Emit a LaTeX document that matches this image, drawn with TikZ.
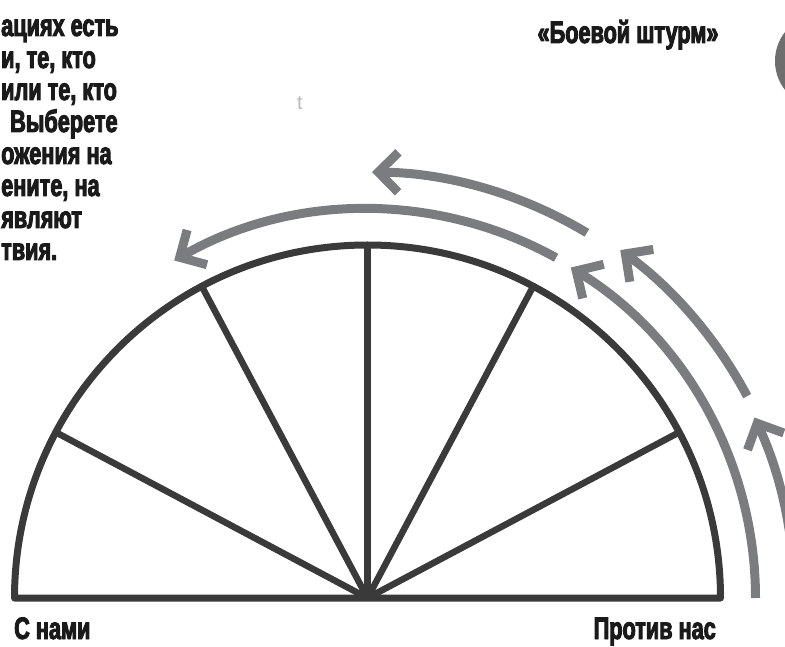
\documentclass[tikz,border=0pt]{standalone}
\usepackage{fontspec}
\setmainfont{Liberation Sans}
\newfontfamily\heavyfont{Liberation Sans Bold}[FakeStretch=0.7, FakeBold=3]
\usetikzlibrary{arrows.meta,calc}

\definecolor{rimgray}{RGB}{58,58,58}
\definecolor{flowgray}{RGB}{123,124,128}
\definecolor{dotgray}{RGB}{110,110,110}
\definecolor{inkblack}{RGB}{26,26,26}

\begin{document}
\begin{tikzpicture}[x=1pt, y=1pt,
    rim/.style={draw=rimgray, line width=7pt, line join=round},
    spoke/.style={draw=rimgray, line width=6.5pt},
    flow/.style={draw=flowgray, line width=9pt,
                 -{Straight Barb[length=20pt,width=40pt,sharp]}},
    sidetext/.style={font=\heavyfont\fontsize{31}{31}\selectfont,
                     text=inkblack, inner sep=0pt},
    para/.style={font=\heavyfont\fontsize{31}{31}\selectfont,
                 text=inkblack, inner sep=0pt, anchor=base west}
]

\useasboundingbox (0,0) rectangle (785,646);

\coordinate (O) at (367.5,48);

\draw[rim] ($(O)+(-353pt,0)$) arc[start angle=180, end angle=0, radius=353pt] -- cycle;
\foreach \a in {28,62,90,118,152}
    \draw[spoke] (O) -- ++(\a:350pt);

\draw[flow] ($(O)+(0:427pt)$) arc[start angle=0, end angle=25, radius=427pt];
\draw[flow] ($(O)+(28:430pt)$) arc[start angle=28, end angle=54, radius=430pt];
\draw[flow] ($(O)+(59:426pt)$) arc[start angle=59, end angle=89.4, radius=426pt];
\draw[flow] ($(O)+(0:388pt)$) arc[start angle=0, end angle=58.4, radius=388pt];
\draw[flow] ($(O)+(61:389pt)$) arc[start angle=61, end angle=119.8, radius=389pt];

\begin{scope}
\clip (0,0) rectangle (785,646);
\fill[dotgray] (822,585) circle[radius=47pt];
\end{scope}

\node[para] (line1) at (1,610) {ациях есть};
\node[para] (line2) at (1,578) {и, те, кто};
\node[para] (line3) at (1,546) {или те, кто};
\node[para] (line4) at (10,514) {Выберете};
\node[para] (line5) at (1,482) {ожения на};
\node[para] (line6) at (1,450) {ените, на};
\node[para] (line7) at (1,418) {являют};
\node[para] (line8) at (1,386) {твия.};

\node[para, anchor=base] (title) at (628,603) {«Боевой штурм»};
\node[font=\fontsize{20}{20}\selectfont, text=gray!55, inner sep=0pt, anchor=base]
    (stray) at (300,536) {t};

\node[sidetext, anchor=base west] (withus) at (14,7) {С нами};
\node[sidetext, anchor=base east] (againstus) at (716,7) {Против нас};

\end{tikzpicture}
\end{document}
